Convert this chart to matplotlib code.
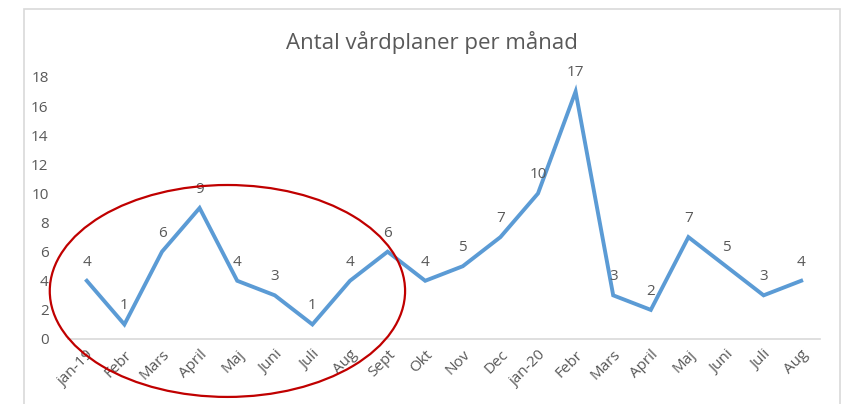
import matplotlib
matplotlib.use("Agg")
import matplotlib.pyplot as plt
from matplotlib.patches import Ellipse, Rectangle

months = ["jan-19", "Febr", "Mars", "April", "Maj", "Juni", "Juli", "Aug", "Sept", "Okt",
          "Nov", "Dec", "jan-20", "Febr", "Mars", "April", "Maj", "Juni", "Juli", "Aug"]
values = [4, 1, 6, 9, 4, 3, 1, 4, 6, 4, 5, 7, 10, 17, 3, 2, 7, 5, 3, 4]
yticks = [0, 2, 4, 6, 8, 10, 12, 14, 16, 18]
title = "Antal vårdplaner per månad"

plt.rcParams['font.family'] = ['Open Sans', 'DejaVu Sans']
txt = "#595959"

fig = plt.figure(figsize=(8.46, 4.04), dpi=100)
fig.patches.append(Rectangle((24/846, -0.1), (840-24)/846, (404-9)/404 + 0.1,
                             transform=fig.transFigure, fill=False,
                             edgecolor="#D9D9D9", linewidth=1.2, zorder=0))
ax = fig.add_axes([68/846, 65/404, (820-68)/846, (339-77)/404])
x = list(range(len(values)))
ax.plot(x, values, color="#5B9BD5", linewidth=2.8, solid_joinstyle="miter", zorder=3)
for xi, v in zip(x, values):
    ax.annotate(str(v), (xi, v), xytext=(0, 8), textcoords="offset points",
                ha="center", va="bottom", fontsize=11, color=txt)
ax.set_xlim(-0.5, len(values) - 0.5)
ax.set_ylim(0, 18)
ax.set_yticks(yticks)
ax.set_yticklabels([str(t) for t in yticks], fontsize=11, color=txt)
ax.set_xticks(x)
ax.set_xticklabels(months, rotation=45, ha="right", rotation_mode="anchor",
                   fontsize=11, color=txt)
ax.tick_params(axis="both", length=0)
ax.tick_params(axis="y", pad=14)
ax.tick_params(axis="x", pad=6)
for s in ["top", "right", "left"]:
    ax.spines[s].set_visible(False)
ax.spines["bottom"].set_color("#D9D9D9")
ax.spines["bottom"].set_linewidth(1.2)
fig.text(432/846, 1 - 42/404, title, ha="center", va="center", fontsize=16, color=txt)

ell = Ellipse((3.74, 3.3), 9.45, 14.56, fill=False, edgecolor="#C00000",
              linewidth=1.6, clip_on=False, zorder=4)
ax.add_patch(ell)
fig.savefig("out.png", dpi=100)
